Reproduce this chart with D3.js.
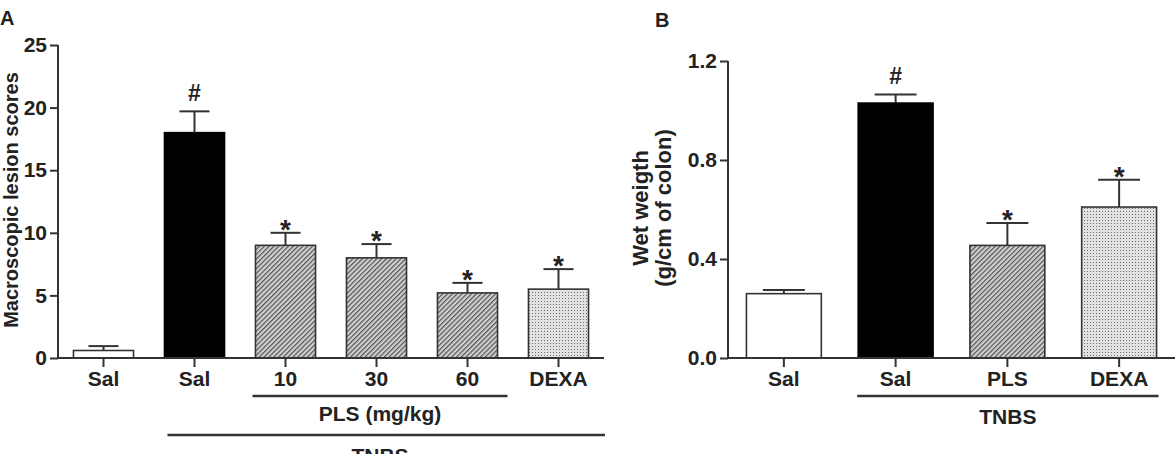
<!DOCTYPE html>
<html>
<head>
<meta charset="utf-8">
<script src="https://cdn.jsdelivr.net/npm/d3@7"></script>
<style>
  html, body { margin: 0; padding: 0; background: #fff; }
  svg { display: block; font-family: "Liberation Sans", Arial, Helvetica, sans-serif; }
</style>
</head>
<body>
<svg id="chart" width="1175" height="454"></svg>
<script>
// ---------- DATA ----------
const catsA  = ["Sal", "Sal", "10", "30", "60", "DEXA"];
const groupA = ["saline", "tnbs", "pls", "pls", "pls", "dexa"];
const meansA = [0.6, 18.0, 9.0, 8.0, 5.2, 5.5];
const errA   = [0.35, 1.7, 1.0, 1.1, 0.8, 1.6];
const marksA = ["", "#", "*", "*", "*", "*"];
const ticksA = [0, 5, 10, 15, 20, 25];

const catsB  = ["Sal", "Sal", "PLS", "DEXA"];
const groupB = ["saline", "tnbs", "pls", "dexa"];
const meansB = [0.26, 1.03, 0.455, 0.61];
const errB   = [0.015, 0.035, 0.09, 0.11];
const marksB = ["", "#", "*", "*"];
const ticksB = [0, 0.4, 0.8, 1.2];

// ---------- STYLE ----------
const INK = "#222";
const FS = 21;
const fillFor = { saline: "#ffffff", tnbs: "#000000", pls: "url(#hatch)", dexa: "url(#dots)" };

const svg = d3.select("#chart");
const defs = svg.append("defs");
const hatch = defs.append("pattern").attr("id", "hatch")
  .attr("patternUnits", "userSpaceOnUse").attr("width", 3.4).attr("height", 3.4)
  .attr("patternTransform", "rotate(45)");
hatch.append("rect").attr("width", 3.4).attr("height", 3.4).attr("fill", "#cfcfcf");
hatch.append("line").attr("x1", 0.6).attr("y1", 0).attr("x2", 0.6).attr("y2", 3.4)
  .attr("stroke", "#4a4a4a").attr("stroke-width", 1.1);
const dots = defs.append("pattern").attr("id", "dots")
  .attr("patternUnits", "userSpaceOnUse").attr("width", 3).attr("height", 3);
dots.append("rect").attr("width", 3).attr("height", 3).attr("fill", "#e2e2e2");
dots.append("rect").attr("x", 1).attr("y", 1).attr("width", 1).attr("height", 1).attr("fill", "#6a6a6a");

function panel(opts) {
  const { cats, groups, means, errs, marks, ticks, x0, x1, yTop, yBase, yMax,
          pad, capFrac, fmt } = opts;
  const idx = cats.map((d, i) => i);
  const x = d3.scaleBand().domain(idx).range([x0, x1]).paddingInner(pad).paddingOuter(pad / 2);
  const y = d3.scaleLinear().domain([0, yMax]).range([yBase, yTop]);
  const g = svg.append("g");

  // bars
  g.selectAll("rect.bar").data(idx).join("rect").attr("class", "bar")
    .attr("x", i => x(i)).attr("width", x.bandwidth())
    .attr("y", i => y(means[i])).attr("height", i => y(0) - y(means[i]))
    .attr("fill", i => fillFor[groups[i]])
    .attr("stroke", i => groups[i] === "tnbs" ? "#000" : "#333")
    .attr("stroke-width", 1.6);

  // error bars (upper only)
  const cap = x.bandwidth() * capFrac;
  idx.forEach(i => {
    const cx = x(i) + x.bandwidth() / 2;
    g.append("line").attr("x1", cx).attr("x2", cx)
      .attr("y1", y(means[i])).attr("y2", y(means[i] + errs[i]))
      .attr("stroke", "#333").attr("stroke-width", 2);
    g.append("line").attr("x1", cx - cap / 2).attr("x2", cx + cap / 2)
      .attr("y1", y(means[i] + errs[i])).attr("y2", y(means[i] + errs[i]))
      .attr("stroke", "#333").attr("stroke-width", 2);
    if (marks[i]) {
      const star = marks[i] === "*";
      g.append("text").attr("x", cx).attr("y", y(means[i] + errs[i]) + (star ? 6 : -10))
        .attr("text-anchor", "middle").attr("fill", INK)
        .attr("font-weight", "bold").attr("font-size", star ? 28 : 23)
        .text(marks[i]);
    }
  });

  // y axis
  const ya = g.append("g").attr("transform", `translate(${x0},0)`)
    .call(d3.axisLeft(y).tickValues(ticks).tickFormat(fmt).tickSize(8).tickPadding(3));
  ya.select(".domain").attr("stroke", "#333").attr("stroke-width", 2)
    .attr("d", `M0,${yTop}V${yBase}`);
  ya.selectAll(".tick line").attr("stroke", "#333").attr("stroke-width", 2);
  ya.selectAll(".tick text").attr("fill", INK).attr("font-size", FS).attr("font-weight", "bold")
    .attr("font-family", "Liberation Sans, Arial, sans-serif");

  // x axis
  const xa = g.append("g").attr("transform", `translate(0,${yBase})`)
    .call(d3.axisBottom(x).tickFormat(i => cats[i]).tickSize(9).tickPadding(4));
  xa.select(".domain").attr("stroke", "#333").attr("stroke-width", 2)
    .attr("d", `M${x0},0H${x1}`);
  xa.selectAll(".tick line").attr("stroke", "#333").attr("stroke-width", 2);
  xa.selectAll(".tick text").attr("fill", INK).attr("font-size", FS).attr("font-weight", "bold")
    .attr("font-family", "Liberation Sans, Arial, sans-serif");
  return { x, y, g };
}

// ---------- PANEL A ----------
const A = panel({ cats: catsA, groups: groupA, means: meansA, errs: errA, marks: marksA,
  ticks: ticksA, x0: 58, x1: 604, yTop: 45, yBase: 358, yMax: 25, pad: 0.34, capFrac: 0.5,
  fmt: d3.format("d") });

function groupLine(g, xa, xb, yy) {
  g.append("line").attr("x1", xa).attr("x2", xb).attr("y1", yy).attr("y2", yy)
    .attr("stroke", "#333").attr("stroke-width", 2.5);
}
function label(g, txt, xx, yy, size) {
  g.append("text").attr("x", xx).attr("y", yy).attr("text-anchor", "middle")
    .attr("fill", INK).attr("font-weight", "bold").attr("font-size", size).text(txt);
}
{
  const bw = A.x.bandwidth();
  const plsL = A.x(2) - 3, plsR = A.x(4) + bw + 10;
  groupLine(A.g, plsL, plsR, 396);
  label(A.g, "PLS (mg/kg)", (plsL + plsR) / 2, 421, FS);
  const tL = A.x(1) + 3, tR = 605;
  groupLine(A.g, tL, tR, 435);
  label(A.g, "TNBS", 380, 463, FS);
  A.g.append("text").attr("transform", "translate(18,200) rotate(-90)")
    .attr("text-anchor", "middle").attr("fill", INK).attr("font-weight", "bold")
    .attr("font-size", 20).text("Macroscopic lesion scores");
  A.g.append("text").attr("x", 0).attr("y", 25).attr("fill", INK)
    .attr("font-weight", "bold").attr("font-size", 20).text("A");
}

// ---------- PANEL B ----------
const B = panel({ cats: catsB, groups: groupB, means: meansB, errs: errB, marks: marksB,
  ticks: ticksB, x0: 728, x1: 1175, yTop: 61, yBase: 358, yMax: 1.2, pad: 0.33, capFrac: 0.56,
  fmt: d3.format(".1f") });
{
  const bw = B.x.bandwidth();
  const tL = B.x(1) - 1, tR = B.x(3) + bw + 2;
  groupLine(B.g, tL, tR, 396);
  label(B.g, "TNBS", (tL + tR) / 2, 424, FS);
  const yl = B.g.append("text").attr("transform", "translate(640,208) rotate(-90)")
    .attr("text-anchor", "middle").attr("fill", INK).attr("font-weight", "bold").attr("font-size", 22);
  yl.append("tspan").attr("x", 0).attr("dy", "0.35em").text("Wet weigth");
  yl.append("tspan").attr("x", 0).attr("dy", "1.08em").text("(g/cm of colon)");
  B.g.append("text").attr("x", 655).attr("y", 27).attr("fill", INK)
    .attr("font-weight", "bold").attr("font-size", 20).text("B");
}
</script>
</body>
</html>
